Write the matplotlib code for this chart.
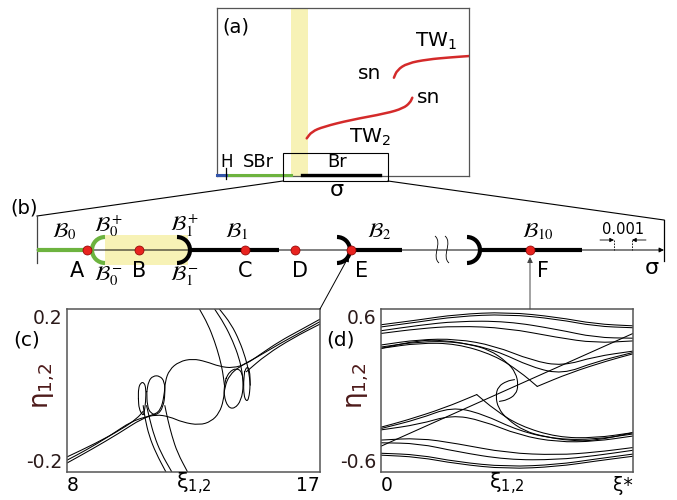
import numpy as np
import matplotlib
matplotlib.use("Agg")
import matplotlib.pyplot as plt
from matplotlib.patches import Arc, Rectangle, PathPatch
from matplotlib.path import Path

W, H = 677, 500

# ---------------- panel (a): branches in (sigma, norm) sketch, axes units
tw1_x = [0.702, 0.715, 0.755, 0.836, 0.925, 1.0]
tw1_y = [0.585, 0.631, 0.671, 0.694, 0.706, 0.714]
tw2_x = [0.356, 0.376, 0.422, 0.528, 0.673, 0.739, 0.766, 0.775]
tw2_y = [0.224, 0.264, 0.293, 0.333, 0.373, 0.403, 0.436, 0.466]
hopf_seg = [0.0, 0.036]
sbr_seg = [0.036, 0.294]
br_seg = [0.337, 0.647]
yellow_band = [0.294, 0.361]
zoom_box = [0.262, 0.679]

# ---------------- panel (b): sigma line (pixel coords of the sketch)
b_dot_x = [87, 139, 245, 295, 351, 530]
b_dot_lbl = ["A", "B", "C", "D", "E", "F"]
b_lbl_x = [77, 139, 245, 300, 362, 543]
b_green_seg = [(37, 87)]
b_black_seg = [(189, 279), (351, 402), (480, 582)]
b_arc_cx = [105, 177, 337, 467]
b_arc_side = ["left", "right", "right", "right"]
b_arc_col = ["#6db33f", "k", "k", "k"]
b_names = [r"$\mathcal{B}_0$", r"$\mathcal{B}_0^+$", r"$\mathcal{B}_0^-$",
           r"$\mathcal{B}_1^+$", r"$\mathcal{B}_1^-$", r"$\mathcal{B}_1$",
           r"$\mathcal{B}_2$", r"$\mathcal{B}_{10}$"]
b_name_x = [64, 108, 108, 184, 184, 237, 379, 538]
b_name_y = [232, 226, 276, 226, 276, 232, 232, 232]

# ---------------- panel (c): orbits (xi, eta)
c_path1_xi = [8.00, 8.89, 9.85, 10.68, 11.16, 11.64, 12.11, 12.71, 13.13, 13.42,
              13.57, 13.61, 13.78, 14.14, 14.74, 15.57, 16.29, 17.00]
c_path1_eta = [-0.178, -0.144, -0.105, -0.068, -0.059, -0.064, -0.078, -0.085, -0.076, -0.055,
               -0.024, 0.009, 0.038, 0.059, 0.081, 0.115, 0.142, 0.169]
c_path2_xi = [17.00, 16.29, 15.57, 14.86, 14.38, 13.90, 13.42, 12.95, 12.47, 11.99,
              11.64, 11.49, 11.46, 11.33, 11.04, 10.32, 9.49, 8.66, 8.00]
c_path2_eta = [0.175, 0.148, 0.121, 0.088, 0.065, 0.055, 0.059, 0.071, 0.078, 0.071,
               0.051, 0.022, -0.012, -0.049, -0.061, -0.074, -0.113, -0.147, -0.171]
c_path3_xi = [8.00, 9.01, 9.97, 10.50, 10.71]
c_path3_eta = [-0.163, -0.130, -0.094, -0.068, -0.051]
c_path4_xi = [14.38, 15.09, 16.04, 17.00]
c_path4_eta = [0.046, 0.088, 0.129, 0.163]
loop_l1_xi = [10.54, 10.54, 10.62, 10.74, 10.81, 10.80, 10.74, 10.69, 10.56, 10.54]
loop_l1_eta = [-0.020, 0.005, 0.019, 0.020, 0.005, -0.028, -0.057, -0.061, -0.045, -0.020]
loop_l2_xi = [10.84, 10.90, 11.06, 11.30, 11.47, 11.49, 11.42, 11.22, 10.98, 10.85, 10.84]
loop_l2_eta = [-0.003, 0.023, 0.036, 0.036, 0.022, -0.008, -0.041, -0.060, -0.057, -0.037, -0.003]
loop_r1_xi = [13.66, 13.78, 14.02, 14.23, 14.28, 14.20, 13.96, 13.72, 13.58, 13.60, 13.66]
loop_r1_eta = [0.030, 0.046, 0.055, 0.046, 0.013, -0.024, -0.045, -0.041, -0.012, 0.013, 0.030]
loop_r2_xi = [14.32, 14.40, 14.50, 14.52, 14.47, 14.38, 14.29, 14.28, 14.32]
loop_r2_eta = [0.046, 0.059, 0.051, 0.013, -0.020, -0.027, -0.012, 0.022, 0.046]
arc_top_eta = [0.2, 0.163, 0.121, 0.080, 0.046, 0.013]
arc_top_xi = [[12.71, 13.01, 13.25, 13.43, 13.54, 13.60],
              [13.25, 13.60, 13.90, 14.12, 14.23, 14.28],
              [13.42, 13.84, 14.14, 14.35, 14.47, 14.52]]
arc_bot_eta = [-0.037, -0.070, -0.111, -0.153, -0.2]
arc_bot_xi = [[10.71, 10.78, 10.92, 11.16, 11.52],
              [10.83, 10.94, 11.10, 11.34, 11.73],
              [11.48, 11.58, 11.73, 11.93, 12.29]]

# ---------------- panel (d): orbits (xi/xi*, eta)
d_x7 = [0, 0.15, 0.3, 0.5, 0.7, 0.85, 1]
d_up = [[0.484, 0.52, 0.56, 0.578, 0.54, 0.49, 0.476],
        [0.468, 0.505, 0.545, 0.562, 0.525, 0.473, 0.462],
        [0.44, 0.48, 0.51, 0.51, 0.45, 0.39, 0.385],
        [0.42, 0.455, 0.475, 0.46, 0.39, 0.35, 0.365]]
d_lo = [[-0.476, -0.49, -0.54, -0.578, -0.56, -0.52, -0.484],
        [-0.462, -0.473, -0.525, -0.562, -0.545, -0.505, -0.468],
        [-0.385, -0.39, -0.45, -0.51, -0.51, -0.48, -0.44],
        [-0.365, -0.35, -0.39, -0.46, -0.475, -0.455, -0.42]]
d_x8u = [0, 0.15, 0.3, 0.45, 0.6, 0.72, 0.85, 1]
d_mid_up = [[0.335, 0.375, 0.38, 0.33, 0.22, 0.18, 0.25, 0.29],
            [0.32, 0.36, 0.36, 0.30, 0.17, 0.12, 0.21, 0.28]]
d_x8l = [0, 0.15, 0.28, 0.4, 0.55, 0.7, 0.85, 1]
d_mid_lo = [[-0.29, -0.25, -0.18, -0.22, -0.33, -0.38, -0.375, -0.335],
            [-0.28, -0.21, -0.12, -0.17, -0.30, -0.36, -0.36, -0.32]]
d_trough_x = [[0, 0.15, 0.3, 0.45, 0.55, 0.62], [0.62, 0.75, 0.9, 1]]
d_trough_y = [[0.31, 0.35, 0.345, 0.26, 0.14, 0.03], [0.03, 0.13, 0.22, 0.27]]
d_peak_x = [[0, 0.1, 0.25, 0.38], [0.38, 0.45, 0.55, 0.7, 0.85, 1]]
d_peak_y = [[-0.27, -0.22, -0.13, -0.03], [-0.03, -0.14, -0.26, -0.345, -0.35, -0.31]]
d_s_up_x = [0, 0.15, 0.25, 0.35, 0.43, 0.5, 0.535, 0.545, 0.535, 0.5, 0.47]
d_s_up_y = [0.31, 0.37, 0.37, 0.34, 0.30, 0.21, 0.13, 0.04, -0.03, -0.07, -0.08]
d_s_lo_x = [1, 0.85, 0.75, 0.65, 0.57, 0.5, 0.465, 0.455, 0.465, 0.5, 0.53]
d_s_lo_y = [-0.31, -0.37, -0.37, -0.34, -0.30, -0.21, -0.13, -0.04, 0.03, 0.07, 0.08]
d_diag_x = [0, 1]
d_diag_y = [-0.41, 0.42]

YELLOW = "#f7f2b6"
GREEN = "#6db33f"
RED = "#d42a2a"
DOT = "#e8231f"
MAROON = "#4d1a1a"
SPINE = "#555555"
SUB12 = r"$_{1{,}2}$"


def px_axes(left, top, right, bottom, **kw):
    return fig.add_axes([left / W, 1 - bottom / H, (right - left) / W, (bottom - top) / H], **kw)


def smooth(ax, xs, ys, **kw):
    # quadratic bezier through the midpoints of the read-off points
    pts = np.column_stack([xs, ys]).astype(float)
    if len(pts) < 3:
        ax.plot(pts[:, 0], pts[:, 1], **kw)
        return
    mids = (pts[:-1] + pts[1:]) / 2
    verts = [pts[0], mids[0]]
    codes = [Path.MOVETO, Path.LINETO]
    for i in range(1, len(pts) - 1):
        verts += [pts[i], mids[i]]
        codes += [Path.CURVE3, Path.CURVE3]
    verts.append(pts[-1])
    codes.append(Path.LINETO)
    ax.add_patch(PathPatch(Path(verts, codes), fill=False, capstyle="round", **kw))


fig = plt.figure(figsize=(W / 100, H / 100), dpi=100)

# ---------------- (a)
axa = px_axes(217, 8, 469, 176)
axa.set_xlim(0, 1)
axa.set_ylim(0, 1)
axa.set_xticks([])
axa.set_yticks([])
for s in axa.spines.values():
    s.set_color(SPINE)
    s.set_linewidth(0.9)
axa.axvspan(*yellow_band, color=YELLOW, lw=0, zorder=0)
axa.plot(sbr_seg, [0.006, 0.006], color=GREEN, lw=2.2, clip_on=False, zorder=3)
axa.plot(hopf_seg, [0.006, 0.006], color="#3355aa", lw=2.2, clip_on=False, zorder=3)
axa.plot([hopf_seg[1]] * 2, [-0.02, 0.045], color="k", lw=0.9, clip_on=False, zorder=4)
axa.plot(br_seg, [0.006, 0.006], color="k", lw=2.4, clip_on=False, zorder=3)
axa.add_patch(Rectangle((zoom_box[0], -0.03), zoom_box[1] - zoom_box[0], 0.167,
                        fill=False, lw=0.8, ec="k", clip_on=False, zorder=4))
smooth(axa, tw1_x, tw1_y, color=RED, lw=1.8)
smooth(axa, tw2_x, tw2_y, color=RED, lw=1.8)
axa.text(0.022, 0.885, "(a)", fontsize=14, va="center")
axa.text(0.869, 0.80, "TW$_1$", fontsize=14.5, ha="center", va="center")
axa.text(0.607, 0.613, "sn", fontsize=14.5, ha="center", va="center")
axa.text(0.84, 0.47, "sn", fontsize=14.5, ha="center", va="center")
axa.text(0.607, 0.232, "TW$_2$", fontsize=14.5, ha="center", va="center")
axa.text(0.04, 0.085, "H", fontsize=12, ha="center", va="center")
axa.text(0.163, 0.082, "SBr", fontsize=13, ha="center", va="center")
axa.text(0.476, 0.082, "Br", fontsize=13, ha="center", va="center")

# ---------------- (c)
axc = px_axes(67, 309, 320, 472)
axc.set_xlim(8, 17)
axc.set_ylim(-0.2, 0.2)
lw_c = 0.75
for xs, ys in [(c_path1_xi, c_path1_eta), (c_path2_xi, c_path2_eta),
               (c_path3_xi, c_path3_eta), (c_path4_xi, c_path4_eta),
               (loop_l1_xi, loop_l1_eta), (loop_l2_xi, loop_l2_eta),
               (loop_r1_xi, loop_r1_eta), (loop_r2_xi, loop_r2_eta)]:
    smooth(axc, xs, ys, color="k", lw=lw_c)
for xs in arc_top_xi:
    smooth(axc, xs, arc_top_eta, color="k", lw=lw_c)
for xs in arc_bot_xi:
    smooth(axc, xs, arc_bot_eta, color="k", lw=lw_c)
axc.set_xticks([8, 17], ["8", "17"])
axc.set_yticks([-0.2, 0.2], ["-0.2", "0.2"])

# ---------------- (d)
axd = px_axes(381, 309, 633, 472)
axd.set_xlim(0, 1)
axd.set_ylim(-0.6, 0.6)
lw_d = 0.75
for ys in d_up + d_lo:
    smooth(axd, d_x7, ys, color="k", lw=lw_d)
for ys in d_mid_up:
    smooth(axd, d_x8u, ys, color="k", lw=lw_d)
for ys in d_mid_lo:
    smooth(axd, d_x8l, ys, color="k", lw=lw_d)
for xs, ys in zip(d_trough_x + d_peak_x, d_trough_y + d_peak_y):
    smooth(axd, xs, ys, color="k", lw=lw_d)
smooth(axd, d_s_up_x, d_s_up_y, color="k", lw=lw_d)
smooth(axd, d_s_lo_x, d_s_lo_y, color="k", lw=lw_d)
axd.plot(d_diag_x, d_diag_y, color="k", lw=lw_d)
axd.set_xticks([0, 1], ["0", "ξ*"])
axd.set_yticks([-0.6, 0.6], ["-0.6", "0.6"])

for ax, lbl in [(axc, "(c)"), (axd, "(d)")]:
    for s in ax.spines.values():
        s.set_color(SPINE)
        s.set_linewidth(1.1)
    ax.tick_params(length=0, labelsize=13.5, pad=3)
    xl = ax.get_xticklabels()
    xl[0].set_ha("left")
    xl[-1].set_ha("right")
    yl = ax.get_yticklabels()
    yl[0].set_va("bottom")
    yl[-1].set_va("top")
    for t in yl:
        t.set_color("#2b1a1a")
    ax.text(0.5, -0.155, "ξ" + SUB12, transform=ax.transAxes, fontsize=15,
            ha="center", va="bottom")
    ax.text(-0.092, 0.53, "η" + SUB12, transform=ax.transAxes, fontsize=19,
            rotation=90, ha="center", va="center", color=MAROON)
    ax.text(-0.16, 0.81, lbl, transform=ax.transAxes, fontsize=14.5,
            ha="center", va="center")

# ---------------- overlay: (b) and connectors (pixel coords)
ov = fig.add_axes([0, 0, 1, 1], zorder=5)
ov.set_xlim(0, W)
ov.set_ylim(H, 0)
ov.set_axis_off()

ov.text(337, 190, "σ", fontsize=16, ha="center", va="center")
ov.plot([283, 37], [181, 216], color="k", lw=0.8)
ov.plot([388, 664], [181, 220], color="k", lw=0.8)
ov.plot([37, 37], [216, 263], color="#444444", lw=0.9)
ov.plot([664, 664], [220, 261], color="k", lw=0.9)
ov.text(24, 208, "(b)", fontsize=14, ha="center", va="center")

y0 = 250
ov.add_patch(Rectangle((105, 235), 83, 30, color=YELLOW, lw=0, zorder=0))
ov.annotate("", xy=(664, y0), xytext=(37, y0), zorder=1,
            arrowprops=dict(arrowstyle="-|>", lw=0.7, color="k", mutation_scale=7,
                            shrinkA=0, shrinkB=0))
for a, b in b_green_seg:
    ov.plot([a, b], [y0, y0], color=GREEN, lw=3, solid_capstyle="butt", zorder=3.5)
for a, b in b_black_seg:
    ov.plot([a, b], [y0, y0], color="k", lw=3, solid_capstyle="butt", zorder=3.5)
for cx, side, col in zip(b_arc_cx, b_arc_side, b_arc_col):
    t1, t2 = (90, 270) if side == "left" else (-90, 90)
    ov.add_patch(Arc((cx, y0), 26, 26, theta1=t1, theta2=t2, color=col, lw=3, zorder=3.5))
ov.plot(b_dot_x, [y0] * len(b_dot_x), "o", color=DOT, mec="#8a0000", mew=0.5,
        ms=6.5, zorder=4)
for x, lbl in zip(b_lbl_x, b_dot_lbl):
    ov.text(x, 271, lbl, fontsize=15, ha="center", va="center")
for x, y, s in zip(b_name_x, b_name_y, b_names):
    ov.text(x, y, s, fontsize=15, ha="center", va="center", math_fontfamily="stix")

# break mark
for cx in [437, 447]:
    v = [(cx - 2, 236), (cx + 6, 243), (cx - 6, 256), (cx + 2, 263)]
    ov.add_patch(PathPatch(Path(v, [Path.MOVETO, Path.CURVE4, Path.CURVE4, Path.CURVE4]),
                           fill=False, lw=0.6, color="k"))

# 0.001 scale bar
for x in [614, 632]:
    ov.plot([x, x], [240, 250], color="k", lw=0.6, ls=(0, (2, 1.5)))
ov.annotate("", xy=(614, 240), xytext=(600, 240),
            arrowprops=dict(arrowstyle="-|>", lw=0.6, color="k", mutation_scale=6,
                            shrinkA=0, shrinkB=0))
ov.annotate("", xy=(632, 240), xytext=(646, 240),
            arrowprops=dict(arrowstyle="-|>", lw=0.6, color="k", mutation_scale=6,
                            shrinkA=0, shrinkB=0))
ov.text(623, 230, "0.001", fontsize=10.5, ha="center", va="center")
ov.text(652, 268, "σ", fontsize=16, ha="center", va="center")

# pointers from (c) and (d) to E and F
ov.annotate("", xy=(349, 256), xytext=(320, 309),
            arrowprops=dict(arrowstyle="-|>", lw=0.7, color="k", mutation_scale=8,
                            shrinkA=0, shrinkB=0))
ov.annotate("", xy=(530, 257), xytext=(530, 309),
            arrowprops=dict(arrowstyle="-|>", lw=0.7, color="#444444", mutation_scale=8,
                            shrinkA=0, shrinkB=0))

fig.savefig("out.png", dpi=100)
